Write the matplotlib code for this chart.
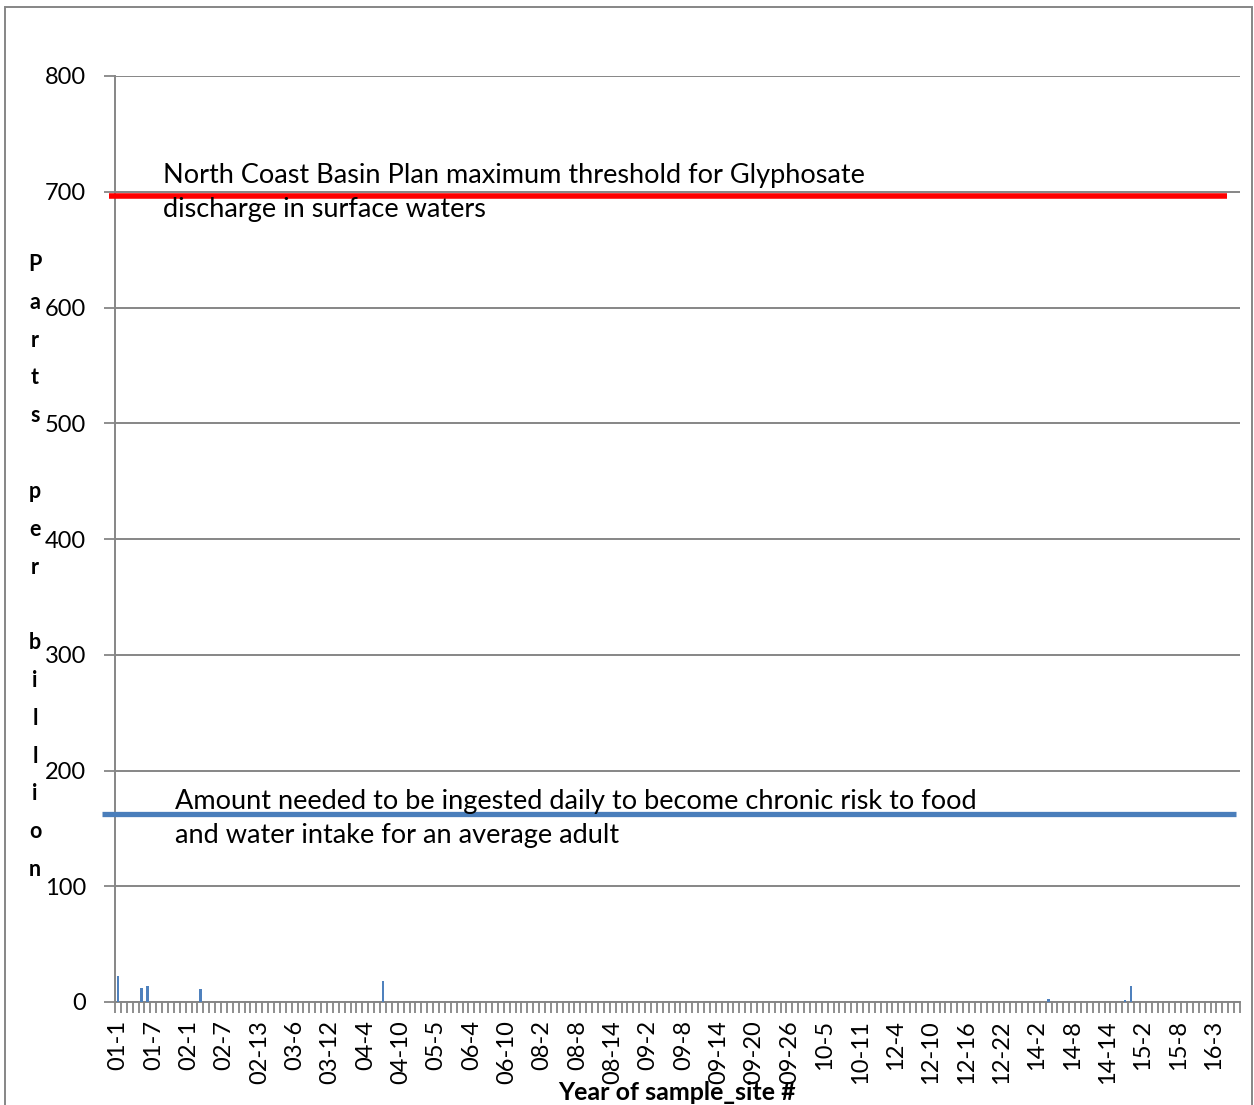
import matplotlib.pyplot as plt
from matplotlib.patches import Rectangle
from matplotlib.transforms import blended_transform_factory

plt.rcParams['font.family'] = ['Lato', 'DejaVu Sans']

# sample sites per year (year code, number of sites)
years = ["01", "02", "03", "04", "05", "06", "08", "09", "10", "12", "14", "15", "16"]
site_counts = [12, 13, 14, 11, 7, 14, 18, 27, 13, 26, 18, 11, 7]

# sites with a detected glyphosate reading (ppb); all others non-detect
detect_sites = ["01-1", "01-5", "01-6", "02-3", "04-7", "14-4", "14-17", "14-18"]
detect_ppb = [22.7, 11.8, 13.8, 11.0, 18.4, 2.3, 1.5, 14.0]

basin_plan_max = 696      # North Coast Basin Plan threshold, ppb
chronic_risk = 162        # daily chronic risk level, ppb

categories = []
for yr, n in zip(years, site_counts):
    for s in range(1, n + 1):
        categories.append(f"{yr}-{s}")
values = [0.0] * len(categories)
for site, v in zip(detect_sites, detect_ppb):
    values[categories.index(site)] = v

fig = plt.figure(figsize=(12.54, 11.05), dpi=100)
ax = fig.add_axes([115 / 1254, 103 / 1105, 1125 / 1254, 926 / 1105])

x = list(range(len(categories)))
ax.bar(x, values, width=0.38, color='#4F81BD', zorder=3)

ax.set_xlim(-0.5, len(categories) - 0.5)
ax.set_ylim(0, 800)
ax.set_yticks(range(0, 801, 100))
ax.grid(axis='y', color='#868686', linewidth=1.4, zorder=0)
ax.set_axisbelow(True)

label_pos = x[::6]
ax.set_xticks(label_pos)
ax.set_xticklabels([categories[i] for i in label_pos], rotation=90, fontsize=17)
ax.set_xticks([i - 0.5 for i in range(len(categories) + 1)], minor=True)
ax.tick_params(axis='x', which='major', length=0, pad=13)
ax.tick_params(axis='x', which='minor', length=8, width=1.3, color='#868686', direction='out')
ax.tick_params(axis='y', length=8, width=1.3, color='#868686', labelsize=17, pad=13)

for side in ['top', 'right']:
    ax.spines[side].set_visible(False)
for side in ['left', 'bottom']:
    ax.spines[side].set_color('#868686')
    ax.spines[side].set_linewidth(1.4)

# reference lines drawn across the plot
trans = blended_transform_factory(ax.transAxes, ax.transData)
ax.plot([-6 / 1125, 1112 / 1125], [basin_plan_max] * 2, color='#FF0000', linewidth=4,
        transform=trans, clip_on=False, zorder=4, solid_capstyle='butt')
ax.plot([-13 / 1125, 1121 / 1125], [chronic_risk] * 2, color='#4A7EBB', linewidth=3.8,
        transform=trans, clip_on=False, zorder=4, solid_capstyle='butt')

ax.text(48 / 1125, basin_plan_max + 29,
        "North Coast Basin Plan maximum threshold for Glyphosate\ndischarge in surface waters",
        transform=trans, fontsize=19.5, va='top', ha='left', linespacing=1.45, zorder=5)
ax.text(60 / 1125, chronic_risk + 22,
        "Amount needed to be ingested daily to become chronic risk to food\nand water intake for an average adult",
        transform=trans, fontsize=19.5, va='top', ha='left', linespacing=1.45, zorder=5)

ylabel = "\n".join(list("Parts") + [""] + list("per") + [""] + list("billion"))
fig.text(35 / 1254, 1 - 567 / 1105, ylabel, fontsize=15.5, fontweight='bold',
         ha='center', va='center', multialignment='center', linespacing=1.99)
fig.text(677 / 1254, 1 - 1092 / 1105, "Year of sample_site #", fontsize=18,
         fontweight='bold', ha='center', va='center')

fig.patches.append(Rectangle((5 / 1254, -0.01), 1247 / 1254, 1.01 - 7 / 1105,
                             transform=fig.transFigure, fill=False,
                             edgecolor='#868686', linewidth=1.4))

fig.savefig('out.png', dpi=100)
